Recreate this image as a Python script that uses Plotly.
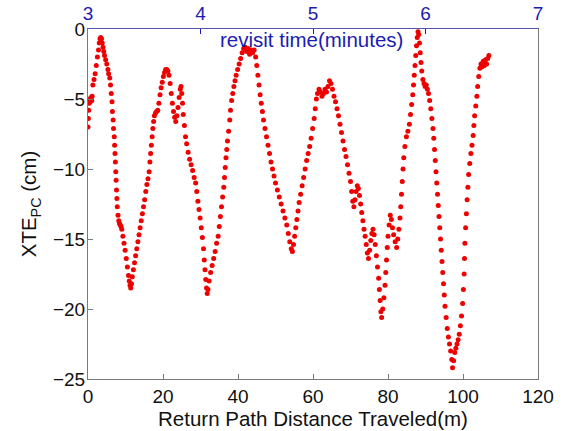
import plotly.graph_objects as go

# Return path distance traveled (m)
distance_m = [
    0.0, 0.1, 0.2, 0.3, 0.5, 0.6, 0.8, 1.0, 1.1, 1.3, 1.6, 1.9, 2.2, 2.5, 2.8, 3.0, 3.2, 3.4, 3.6,
    3.8, 4.0, 4.2, 4.4, 4.7, 5.0, 5.3, 5.5, 5.8, 6.0, 6.2, 6.4, 6.5, 6.7, 6.8, 7.0, 7.1, 7.2, 7.3,
    7.4, 7.5, 7.6, 7.7, 7.8, 8.0, 8.2, 8.4, 8.6, 8.8, 9.0, 9.3, 9.6, 9.9, 10.2, 10.5, 10.8, 11.0,
    11.2, 11.4, 11.6, 11.8, 12.1, 12.4, 12.7, 13.0, 13.3, 13.6, 13.9, 14.2, 14.5, 14.8, 15.1, 15.4,
    15.7, 16.0, 16.3, 16.5, 16.7, 16.9, 17.1, 17.3, 17.5, 17.7, 18.0, 18.3, 18.6, 18.9, 19.2, 19.5,
    19.8, 20.1, 20.4, 20.7, 21.0, 21.3, 21.6, 21.9, 22.2, 22.5, 22.8, 23.1, 23.4, 23.7, 24.0, 24.3,
    24.6, 24.8, 25.0, 25.2, 25.4, 25.7, 26.0, 26.3, 26.7, 27.1, 27.5, 27.9, 28.3, 28.7, 29.0, 29.3,
    29.6, 29.9, 30.2, 30.5, 30.8, 31.0, 31.2, 31.4, 31.6, 31.8, 32.0, 32.3, 32.7, 33.1, 33.5, 33.9,
    34.3, 34.7, 35.0, 35.3, 35.6, 35.9, 36.2, 36.4, 36.6, 36.8, 37.0, 37.2, 37.5, 37.8, 38.0, 38.3,
    38.6, 38.9, 39.2, 39.5, 39.9, 40.3, 40.7, 41.1, 41.5, 41.9, 42.3, 42.7, 43.1, 43.5, 43.9, 44.3,
    44.7, 45.0, 45.3, 45.6, 45.9, 46.2, 46.5, 46.8, 47.2, 47.6, 48.0, 48.4, 48.8, 49.2, 49.6, 50.0,
    50.5, 51.0, 51.5, 52.0, 52.5, 53.0, 53.4, 53.8, 54.2, 54.5, 54.8, 55.1, 55.4, 55.7, 56.0, 56.3,
    56.7, 57.1, 57.5, 57.9, 58.3, 58.7, 59.1, 59.5, 59.9, 60.3, 60.6, 60.9, 61.2, 61.6, 62.0, 62.4,
    62.8, 63.2, 63.6, 64.0, 64.4, 64.8, 65.2, 65.6, 66.0, 66.4, 66.8, 67.2, 67.6, 68.0, 68.4, 68.8,
    69.2, 69.6, 70.0, 70.3, 70.6, 70.9, 71.2, 71.5, 71.8, 72.1, 72.4, 72.7, 73.0, 73.3, 73.6, 73.9,
    74.2, 74.5, 74.8, 75.1, 75.4, 75.7, 76.0, 76.3, 76.6, 76.9, 77.2, 77.5, 77.7, 77.9, 78.1, 78.3,
    78.6, 78.9, 79.2, 79.4, 79.6, 79.8, 80.0, 80.3, 80.6, 80.9, 81.2, 81.5, 81.9, 82.3, 82.6, 82.9,
    83.2, 83.4, 83.6, 83.8, 84.0, 84.2, 84.5, 84.9, 85.3, 85.7, 86.0, 86.3, 86.6, 86.8, 87.0, 87.2,
    87.4, 87.6, 87.8, 88.0, 88.2, 88.4, 88.6, 88.8, 89.0, 89.3, 89.6, 89.9, 90.2, 90.5, 90.8, 91.1,
    91.4, 91.7, 92.0, 92.2, 92.4, 92.6, 92.8, 93.0, 93.2, 93.4, 93.6, 93.8, 94.0, 94.2, 94.4, 94.6,
    94.8, 95.0, 95.2, 95.5, 95.8, 96.1, 96.4, 96.7, 97.0, 97.2, 97.5, 97.8, 98.1, 98.4, 98.7, 99.0,
    99.3, 99.6, 99.9, 100.1, 100.3, 100.4, 100.5, 100.7, 100.9, 101.1, 101.3, 101.5, 101.8, 102.1,
    102.4, 102.7, 102.9, 103.1, 103.4, 103.7, 103.9, 104.2, 104.5, 104.8, 105.1, 105.4, 105.7,
    106.0, 106.3, 106.6, 106.9,
]

# Cross-track error XTE_PC (cm)
xte_cm = [
    -7.0, -6.4, -5.8, -5.3, -5.0, -5.2, -4.9, -5.1, -4.8, -4.0, -3.6, -3.2, -2.6, -2.0, -1.5, -1.0, -0.7, -0.6, -0.7,
    -1.0, -1.3, -1.6, -1.9, -2.2, -2.5, -2.9, -3.2, -3.5, -4.0, -4.6, -5.2, -5.9, -6.5, -7.1, -7.7, -8.3, -8.9, -9.5,
    -10.2, -10.8, -11.5, -12.1, -12.7, -13.3, -13.7, -13.9, -14.0, -14.1, -14.3, -14.8, -15.3, -15.8, -16.4, -17.0, -17.6, -18.0,
    -18.3, -18.5, -18.2, -17.7, -17.2, -16.7, -16.2, -15.7, -15.2, -14.7, -14.2, -13.7, -13.2, -12.7, -12.2, -11.6,
    -11.1, -10.7, -10.2, -9.5, -8.9, -8.3, -7.7, -7.1, -6.6, -6.2, -6.0, -5.9, -5.8, -5.3, -4.7, -4.2,
    -3.8, -3.4, -3.1, -2.9, -2.9, -3.0, -3.3, -3.9, -4.6, -5.3, -5.9, -6.3, -6.6, -6.2, -5.6, -4.9,
    -4.3, -4.1, -4.6, -5.3, -6.1, -6.9, -7.7, -8.2, -8.8, -9.3, -9.7, -10.1, -10.6, -11.0, -11.6, -12.3,
    -12.9, -13.5, -14.2, -14.9, -15.7, -16.5, -17.2, -17.9, -18.5, -18.9, -18.6, -18.0, -17.4, -16.9, -16.4, -15.9,
    -15.3, -14.8, -14.1, -13.4, -12.7, -12.0, -11.3, -10.6, -9.9, -9.2, -8.6, -8.0, -7.3, -6.5, -5.8, -5.1,
    -4.6, -4.1, -3.7, -3.3, -2.9, -2.5, -2.1, -1.7, -1.4, -1.3, -1.6, -1.4, -1.8, -1.5, -1.7, -1.5,
    -2.0, -2.6, -3.3, -4.0, -4.7, -5.3, -5.9, -6.5, -7.1, -7.7, -8.3, -8.9, -9.5, -10.0, -10.5, -11.0,
    -11.5, -12.0, -12.5, -13.0, -13.5, -14.0, -14.6, -15.2, -15.7, -15.9, -15.4, -14.8, -14.2, -13.6, -13.0, -12.4,
    -11.8, -11.2, -10.6, -10.0, -9.4, -8.9, -8.4, -7.8, -7.1, -6.4, -5.7, -5.0, -4.6, -4.3, -4.5, -4.8,
    -4.6, -4.3, -4.5, -4.1, -3.7, -3.9, -4.3, -4.8, -5.2, -5.7, -6.2, -6.8, -7.4, -8.0, -8.6, -9.1,
    -9.7, -10.3, -10.9, -11.6, -12.3, -12.7, -12.2, -11.6, -11.2, -11.4, -11.9, -12.5, -13.1, -13.7, -14.3, -14.8,
    -15.4, -16.0, -16.4, -15.8, -15.1, -14.6, -14.3, -14.7, -15.4, -16.2, -17.0, -17.8, -18.6, -19.4, -20.2, -20.6,
    -20.0, -19.2, -18.3, -17.4, -16.5, -15.6, -14.8, -14.0, -13.3, -13.6, -14.2, -14.7, -15.2, -15.6, -15.0, -14.3,
    -13.5, -12.7, -11.8, -10.9, -10.0, -9.2, -8.4, -7.7, -7.3, -6.8, -6.1, -5.4, -4.7, -4.0, -3.3, -2.6,
    -1.9, -1.2, -0.6, -0.2, -0.4, -1.0, -1.7, -2.4, -3.0, -3.6, -3.9, -4.1, -4.0, -4.3, -4.6, -5.1,
    -5.7, -6.4, -7.1, -7.8, -8.6, -9.4, -10.2, -11.0, -11.8, -12.6, -13.4, -14.2, -15.0, -15.8, -16.6, -17.4,
    -18.2, -19.0, -19.8, -20.6, -21.4, -22.0, -22.5, -23.0, -23.6, -24.2, -23.7, -23.1, -22.8, -22.5, -22.2, -21.8,
    -21.2, -20.5, -19.6, -18.6, -17.5, -16.4, -15.3, -14.2, -13.2, -12.2, -11.3, -10.4, -9.6, -8.9,
    -8.3, -7.6, -6.9, -6.2, -5.5, -4.8, -4.1, -3.4, -2.8, -2.5, -2.7, -2.3, -2.6,
    -2.2, -2.5, -2.1, -1.9,
]

x_ticks = [0, 20, 40, 60, 80, 100, 120]
y_ticks = [-25, -20, -15, -10, -5, 0]
minute_ticks = [3, 4, 5, 6, 7]

BLUE = "#1c1cb0"
GRAY = "#7a7a7a"
FONT = "Liberation Sans, Arial, sans-serif"

fig = go.Figure()
fig.add_trace(go.Scatter(
    x=distance_m, y=xte_cm, mode="markers",
    marker=dict(color="#ee0000", size=5, line=dict(width=0)),
    showlegend=False, hoverinfo="x+y",
))
# empty trace so the top (time) axis is drawn
fig.add_trace(go.Scatter(x=[minute_ticks[0], minute_ticks[-1]], y=[None, None], xaxis="x2",
                         mode="markers", showlegend=False, hoverinfo="skip"))

fig.update_layout(
    width=564, height=431,
    margin=dict(l=88, r=26, t=29, b=52),
    paper_bgcolor="white", plot_bgcolor="white",
    font=dict(family=FONT, size=19, color="#111111"),
    xaxis=dict(
        range=[0, 120], tickvals=x_ticks, ticks="inside", ticklen=5, tickcolor=GRAY,
        showline=True, linecolor=GRAY, linewidth=1, showgrid=False, zeroline=False,
        tickfont=dict(size=19, color="#111111"), automargin=False,
        title=dict(text="Return Path Distance Traveled(m)", font=dict(size=20.5), standoff=4),
    ),
    xaxis2=dict(
        range=[3, 7], tickvals=minute_ticks, overlaying="x", side="top", anchor="y",
        ticks="inside", ticklen=5, tickcolor=BLUE, showline=True, linecolor="#5555b0",
        linewidth=1, showgrid=False, zeroline=False, automargin=False,
        tickfont=dict(size=19, color=BLUE),
    ),
    yaxis=dict(
        range=[-25, 0], tickvals=y_ticks, ticks="inside", ticklen=5, tickcolor=GRAY,
        showline=True, linecolor=GRAY, linewidth=1, mirror=True, showgrid=False, zeroline=False,
        tickfont=dict(size=19, color="#111111"), ticklabelstandoff=-2, automargin=False,
        title=dict(text="XTE<sub>PC</sub> (cm)", font=dict(size=20.5), standoff=10),
    ),
    annotations=[dict(
        text="revisit time(minutes)", xref="paper", yref="paper", x=0.497, y=0.969,
        xanchor="center", yanchor="middle", showarrow=False,
        font=dict(family=FONT, size=20.5, color=BLUE),
    )],
)

fig.write_html("out.html")
